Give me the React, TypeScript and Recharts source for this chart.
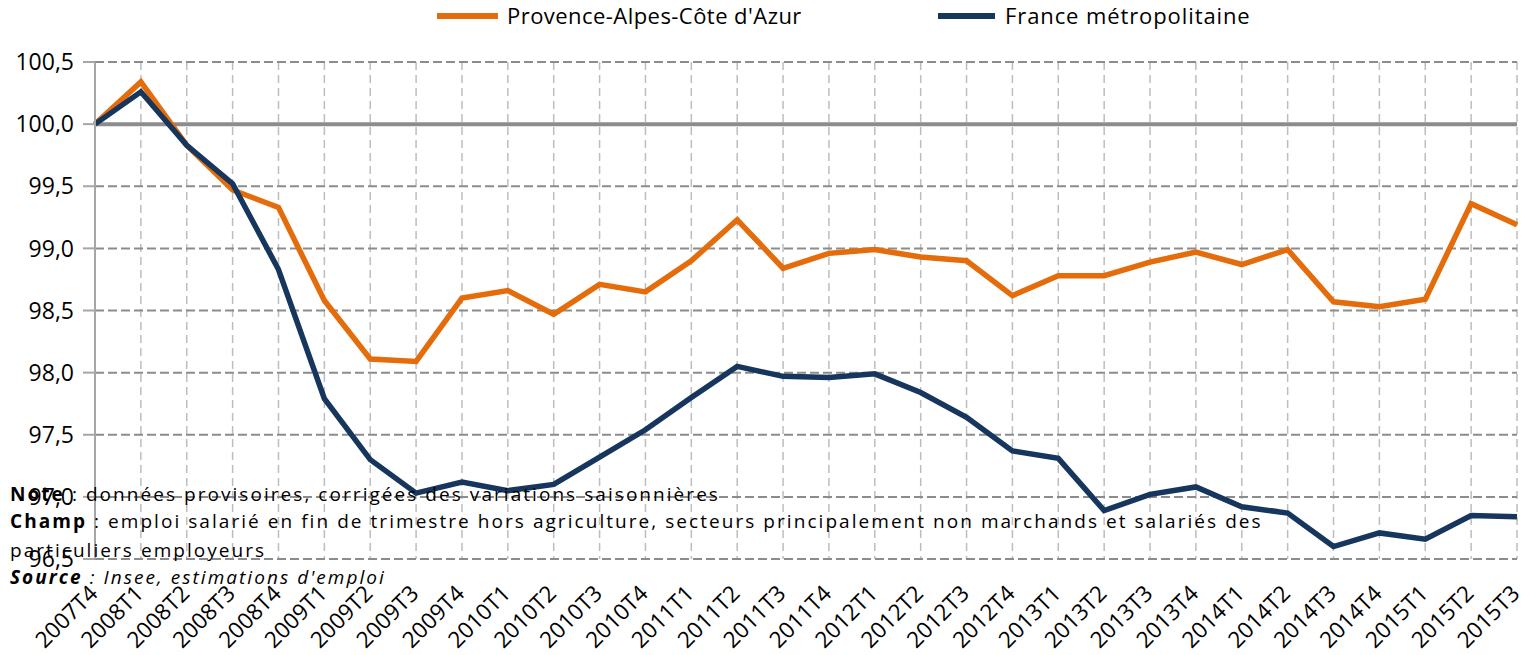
import React from 'react';
import { LineChart, Line, XAxis, YAxis, CartesianGrid, ReferenceLine } from 'recharts';

const categories = [
  '2007T4', '2008T1', '2008T2', '2008T3', '2008T4',
  '2009T1', '2009T2', '2009T3', '2009T4',
  '2010T1', '2010T2', '2010T3', '2010T4',
  '2011T1', '2011T2', '2011T3', '2011T4',
  '2012T1', '2012T2', '2012T3', '2012T4',
  '2013T1', '2013T2', '2013T3', '2013T4',
  '2014T1', '2014T2', '2014T3', '2014T4',
  '2015T1', '2015T2', '2015T3',
];

const pacaValues = [
  100.0, 100.34, 99.83, 99.47, 99.33,
  98.58, 98.11, 98.09, 98.6,
  98.66, 98.47, 98.71, 98.65,
  98.9, 99.23, 98.84, 98.96,
  98.99, 98.93, 98.9, 98.62,
  98.78, 98.78, 98.89, 98.97,
  98.87, 98.99, 98.57, 98.53,
  98.59, 99.36, 99.19,
];

const franceValues = [
  100.0, 100.26, 99.83, 99.52, 98.83,
  97.79, 97.3, 97.03, 97.12,
  97.05, 97.1, 97.32, 97.54,
  97.8, 98.05, 97.97, 97.96,
  97.99, 97.84, 97.64, 97.37,
  97.31, 96.89, 97.02, 97.08,
  96.92, 96.87, 96.6, 96.71,
  96.66, 96.85, 96.84,
];

const yTicks = [96.5, 97, 97.5, 98, 98.5, 99, 99.5, 100, 100.5];
const seriesNames = ["Provence-Alpes-Côte d'Azur", 'France métropolitaine'];
const seriesColors = ['#E46C0A', '#17365D'];

const noteLabel = 'Note';
const noteText = ' : données provisoires, corrigées des variations saisonnières';
const champLabel = 'Champ';
const champText = ' : emploi salarié en fin de trimestre hors agriculture, secteurs principalement non marchands et salariés des';
const champText2 = 'particuliers employeurs';
const sourceLabel = 'Source';
const sourceText = ' : Insee, estimations d\'emploi';

const data = categories.map((c, i) => ({
  cat: c,
  paca: pacaValues[i],
  france: franceValues[i],
}));

const FONT = '"Open Sans", sans-serif';

const XTick = (props: any) => {
  const { x, y, payload } = props;
  const ax = x + 4;
  const ay = y + 36;
  return (
    <text
      x={ax}
      y={ay}
      transform={`rotate(-45, ${ax}, ${ay})`}
      textAnchor="end"
      fontSize={22.5}
      fontFamily={FONT}
      fill="#000"
    >
      {payload.value}
    </text>
  );
};

export default function App() {
  return (
    <div style={{ position: 'absolute', left: 0, top: 0, width: 1524, height: 655, background: '#fff' }}>
      <LineChart
        width={1524}
        height={655}
        data={data}
        margin={{ top: 62, right: 7, bottom: 0, left: 0 }}
      >
        <CartesianGrid horizontal={false} vertical={true} stroke="#BDBDBD" strokeDasharray="8 5" strokeWidth={1.5} />
        <CartesianGrid horizontal={true} vertical={false} stroke="#8C8C8C" strokeDasharray="9 4" strokeWidth={2} />
        <XAxis
          dataKey="cat"
          interval={0}
          tick={<XTick />}
          tickLine={false}
          axisLine={false}
          tickSize={0}
          tickMargin={0}
          height={96}
        />
        <YAxis
          domain={[96.5, 100.5]}
          ticks={yTicks}
          type="number"
          width={95}
          tickSize={12}
          tickMargin={9}
          tickLine={{ stroke: '#A6A6A6', strokeWidth: 2 }}
          axisLine={{ stroke: '#A6A6A6', strokeWidth: 2 }}
          tick={{ fontSize: 23, fontFamily: FONT, fill: '#000' }}
          tickFormatter={(v: number) => v.toFixed(1).replace('.', ',')}
          allowDataOverflow
        />
        <ReferenceLine y={100} stroke="#8C8C8C" strokeWidth={4} />
        <Line
          dataKey="paca"
          name={seriesNames[0]}
          stroke={seriesColors[0]}
          strokeWidth={5.5}
          dot={false}
          isAnimationActive={false}
          strokeLinejoin="miter"
        />
        <Line
          dataKey="france"
          name={seriesNames[1]}
          stroke={seriesColors[1]}
          strokeWidth={5.5}
          dot={false}
          isAnimationActive={false}
          strokeLinejoin="miter"
        />
      </LineChart>
      <svg
        width={1524}
        height={655}
        style={{ position: 'absolute', left: 0, top: 0, pointerEvents: 'none' }}
      >
        <line x1={437} y1={16} x2={498} y2={16} stroke={seriesColors[0]} strokeWidth={6} />
        <text x={507} y={24} fontSize={22} letterSpacing={0.45} fontFamily={FONT} fill="#000">{seriesNames[0]}</text>
        <line x1={938} y1={16} x2={995} y2={16} stroke={seriesColors[1]} strokeWidth={6} />
        <text x={1005} y={24} fontSize={22} letterSpacing={0.9} fontFamily={FONT} fill="#000">{seriesNames[1]}</text>

        <g fontSize={19} fontFamily={FONT} fill="#000" letterSpacing={2.05}>
          <text x={10} y={501}>
            <tspan fontWeight="bold">{noteLabel}</tspan>
            <tspan>{noteText}</tspan>
          </text>
          <text x={10} y={528}>
            <tspan fontWeight="bold">{champLabel}</tspan>
            <tspan>{champText}</tspan>
          </text>
          <text x={10} y={557}>{champText2}</text>
          <text x={10} y={584} fontStyle="italic">
            <tspan fontWeight="bold">{sourceLabel}</tspan>
            <tspan>{sourceText}</tspan>
          </text>
        </g>
      </svg>
    </div>
  );
}
